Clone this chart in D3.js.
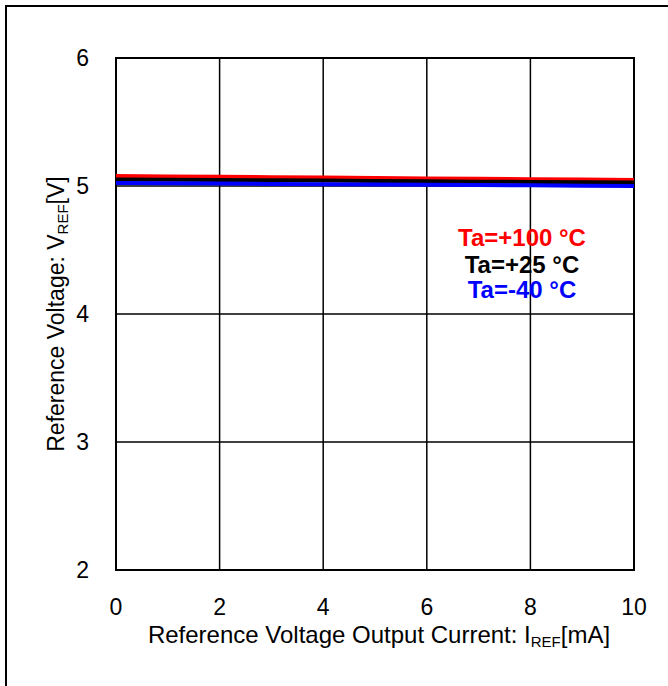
<!DOCTYPE html>
<html>
<head>
<meta charset="utf-8">
<script src="https://cdn.jsdelivr.net/npm/d3@7"></script>
<style>
  body { margin: 0; background: #fff; }
  text { font-family: "Liberation Sans", Arial, sans-serif; }
</style>
</head>
<body>
<div id="chart"></div>
<script>
// reading off the picture
const current = [0, 1, 2, 3, 4, 5, 6, 7, 8, 9, 10];
const vref100 = [5.078, 5.075, 5.072, 5.069, 5.066, 5.063, 5.059, 5.056, 5.053, 5.050, 5.047];
const vref25 = [5.051, 5.049, 5.047, 5.044, 5.042, 5.039, 5.037, 5.034, 5.032, 5.029, 5.027];
const vrefM40 = [5.023, 5.021, 5.019, 5.016, 5.014, 5.012, 5.009, 5.007, 5.005, 5.002, 5.000];
const xTicks = [0, 2, 4, 6, 8, 10];
const yTicks = [2, 3, 4, 5, 6];
const legendLabels = ['Ta=+100 °C', 'Ta=+25 °C', 'Ta=-40 °C'];

const width = 668;
const height = 686;
const margin = { left: 116, right: 34, top: 58, bottom: 116 };

const svg = d3.select('#chart').append('svg')
  .attr('width', width)
  .attr('height', height);

// outer frame
svg.append('rect')
  .attr('x', 6).attr('y', 6)
  .attr('width', 720).attr('height', 720)
  .attr('fill', 'none')
  .attr('stroke', '#000')
  .attr('stroke-width', 2);

const x = d3.scaleLinear().domain([0, 10]).range([margin.left, width - margin.right]);
const y = d3.scaleLinear().domain([2, 6]).range([height - margin.bottom, margin.top]);

// grid
svg.append('g')
  .selectAll('line')
  .data(xTicks)
  .enter().append('line')
  .attr('x1', d => x(d)).attr('x2', d => x(d))
  .attr('y1', y(2)).attr('y2', y(6))
  .attr('stroke', '#000')
  .attr('stroke-width', 1.5);

svg.append('g')
  .selectAll('line')
  .data(yTicks)
  .enter().append('line')
  .attr('x1', x(0)).attr('x2', x(10))
  .attr('y1', d => y(d)).attr('y2', d => y(d))
  .attr('stroke', '#000')
  .attr('stroke-width', 1.5);

svg.append('rect')
  .attr('x', x(0)).attr('y', y(6))
  .attr('width', x(10) - x(0)).attr('height', y(2) - y(6))
  .attr('fill', 'none')
  .attr('stroke', '#000')
  .attr('stroke-width', 2);

// tick labels
svg.append('g')
  .selectAll('text')
  .data(xTicks)
  .enter().append('text')
  .attr('x', d => x(d))
  .attr('y', 615)
  .attr('text-anchor', 'middle')
  .attr('font-size', '23px')
  .text(d => d);

svg.append('g')
  .selectAll('text')
  .data(yTicks)
  .enter().append('text')
  .attr('x', 89)
  .attr('y', d => y(d) + 8)
  .attr('text-anchor', 'end')
  .attr('font-size', '23px')
  .text(d => d);

// axis titles
const xt = svg.append('text')
  .attr('x', 379)
  .attr('y', 643)
  .attr('text-anchor', 'middle')
  .attr('font-size', '24px');
xt.append('tspan').text('Reference Voltage Output Current: I');
xt.append('tspan').attr('font-size', '15px').attr('dy', 4).text('REF');
xt.append('tspan').attr('dy', -4).text('[mA]');

const yt = svg.append('text')
  .attr('transform', 'translate(64,' + (y(4)) + ') rotate(-90)')
  .attr('text-anchor', 'middle')
  .attr('font-size', '23px');
yt.append('tspan').text('Reference Voltage: V');
yt.append('tspan').attr('font-size', '15px').attr('dy', 4).text('REF');
yt.append('tspan').attr('dy', -4).text('[V]');

// series
const series = [
  { values: vref100, color: '#ff0000' },
  { values: vref25, color: '#000000' },
  { values: vrefM40, color: '#0000ff' }
];

const line = d3.line()
  .x((d, i) => x(current[i]))
  .y(d => y(d));

svg.append('g')
  .selectAll('path')
  .data(series)
  .enter().append('path')
  .attr('d', d => line(d.values))
  .attr('fill', 'none')
  .attr('stroke', d => d.color)
  .attr('stroke-width', 4);

// legend
svg.append('g')
  .selectAll('text')
  .data(legendLabels)
  .enter().append('text')
  .attr('x', 522)
  .attr('y', (d, i) => [246, 273, 298][i])
  .attr('text-anchor', 'middle')
  .attr('font-size', '24px')
  .attr('font-weight', 'bold')
  .attr('fill', (d, i) => series[i].color)
  .text(d => d);
</script>
</body>
</html>
